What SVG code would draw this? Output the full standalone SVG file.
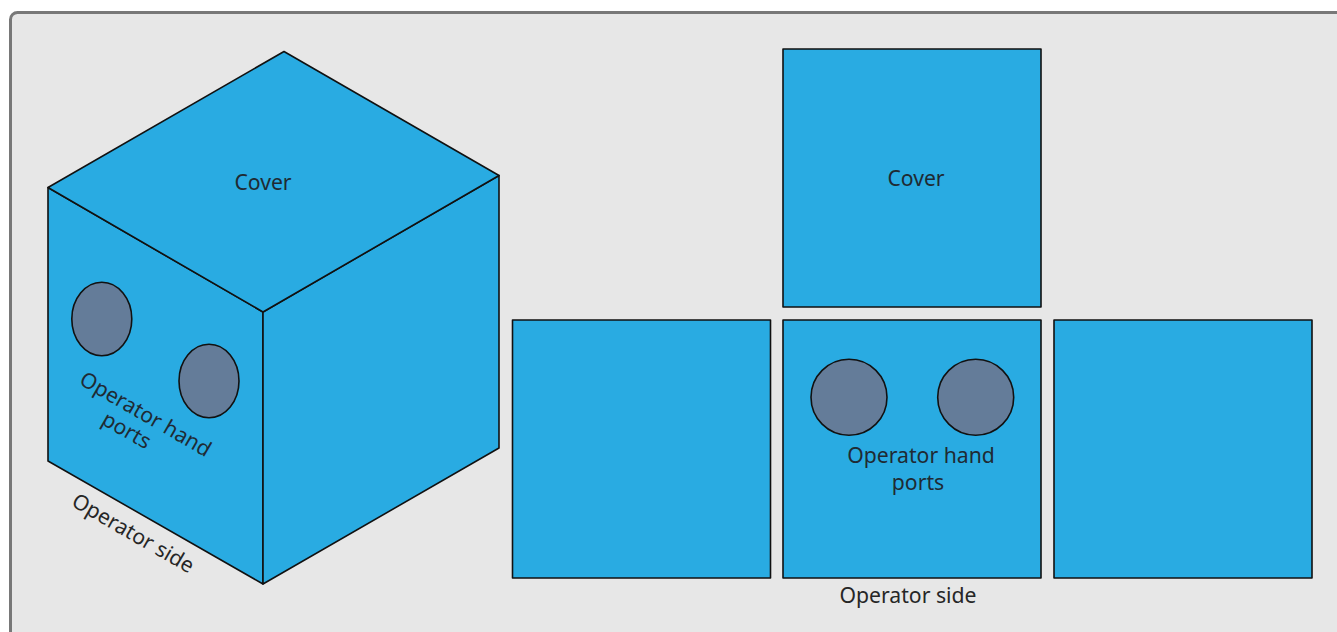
<svg xmlns="http://www.w3.org/2000/svg" width="1337" height="632" viewBox="0 0 1337 632">
<style>
.f{fill:#29abe2;stroke:#111;stroke-width:1.6;stroke-linejoin:round}
.p{fill:#647c99;stroke:#111;stroke-width:1.6}
text{font-family:"Noto Sans","Open Sans",sans-serif;font-size:21.2px;fill:#1f2a33;text-anchor:middle}
#net-label,#cube-side{fill:#262626}
</style>
<rect id="panel" x="10.500" y="12.500" width="1400" height="700" rx="7" fill="#e7e7e7" stroke="#787878" stroke-width="3"/>
<g id="cube">
<polygon class="f" points="48,187.500 263,312 263,584 48,461"/>
<polygon class="f" points="263,312 499,175.500 499,448 263,584"/>
<polygon class="f" points="284,51.500 499,175.500 263,312 48,187.500"/>
<ellipse class="p" cx="101.800" cy="319" rx="30" ry="36.700"/>
<ellipse class="p" cx="209" cy="381" rx="30" ry="36.700"/>
<text x="263" y="190">Cover</text>
<text transform="translate(142,420.500) rotate(30)">Operator hand</text>
<text transform="translate(123,436.500) rotate(30)">ports</text>
<text id="cube-side" transform="translate(129.500,539.500) rotate(30)">Operator side</text>
</g>
<g id="net-top"><rect class="f" x="783" y="49" width="258" height="258"/><text x="916" y="186">Cover</text></g>
<g id="net-left"><rect class="f" x="512.500" y="320" width="258" height="258"/></g>
<g id="net-front"><rect class="f" x="783" y="320" width="258" height="258"/>
<circle class="p" cx="849" cy="397.300" r="38"/><circle class="p" cx="975.700" cy="397.300" r="38"/>
<text x="921" y="463">Operator hand</text><text x="918" y="490">ports</text></g>
<g id="net-right"><rect class="f" x="1054" y="320" width="258" height="258"/></g>
<text id="net-label" x="908" y="603">Operator side</text>
</svg>
